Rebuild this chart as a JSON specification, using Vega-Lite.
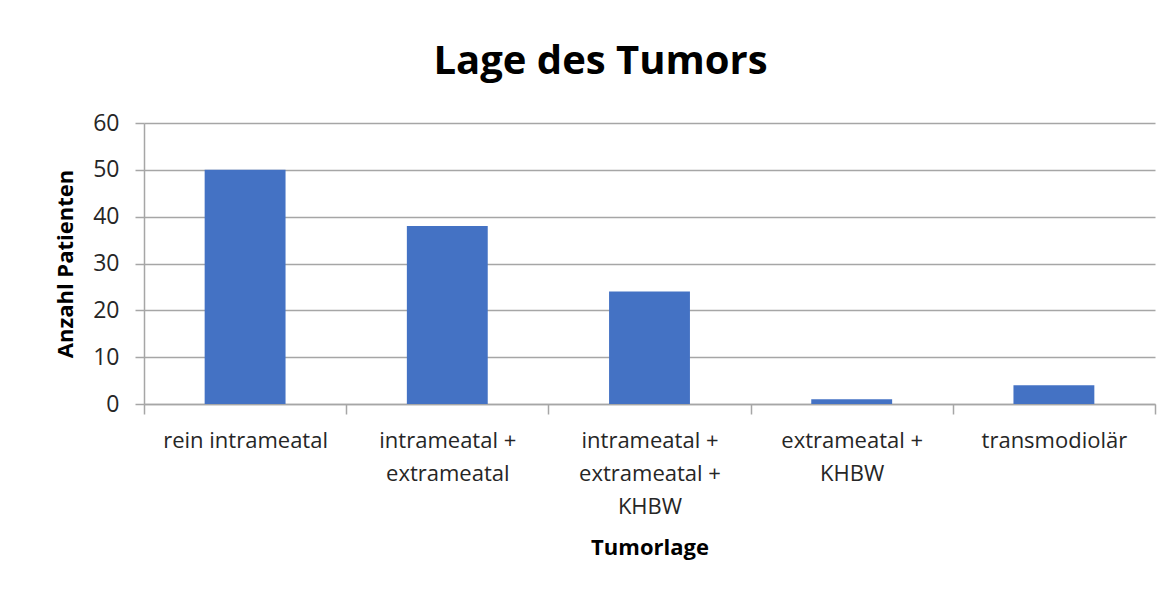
{
  "$schema": "https://vega.github.io/schema/vega-lite/v6.json",
  "width": 1011,
  "height": 281,
  "autosize": {"type": "none"},
  "padding": {"left": 144, "top": 123, "right": 6, "bottom": 190},
  "background": "white",
  "title": {
    "text": "Lage des Tumors",
    "font": "Open Sans",
    "fontSize": 40,
    "fontWeight": "bold",
    "color": "#000000",
    "anchor": "middle",
    "dx": -49,
    "offset": 30
  },
  "data": {
    "values": [
      {"Tumorlage": "rein intrameatal", "Anzahl": 50},
      {"Tumorlage": "intrameatal + extrameatal", "Anzahl": 38},
      {"Tumorlage": "intrameatal + extrameatal + KHBW", "Anzahl": 24},
      {"Tumorlage": "extrameatal + KHBW", "Anzahl": 1},
      {"Tumorlage": "transmodiolär", "Anzahl": 4}
    ]
  },
  "mark": {"type": "bar", "color": "#4472C4", "width": {"band": 0.4}},
  "encoding": {
    "x": {
      "field": "Tumorlage",
      "type": "nominal",
      "sort": null,
      "scale": {"paddingInner": 0, "paddingOuter": 0},
      "axis": {
        "title": "Tumorlage",
        "titleFont": "Open Sans",
        "titleFontSize": 22,
        "titleFontWeight": "bold",
        "titleColor": "#000000",
        "titlePadding": 20,
        "labelFont": "Open Sans",
        "labelFontSize": 22,
        "labelColor": "#262626",
        "labelAngle": 0,
        "labelPadding": 16,
        "labelLineHeight": 33,
        "labelBaseline": "top",
        "labelExpr": "datum.label == 'intrameatal + extrameatal + KHBW' ? ['intrameatal +', 'extrameatal +', 'KHBW'] : datum.label == 'intrameatal + extrameatal' ? ['intrameatal +', 'extrameatal'] : datum.label == 'extrameatal + KHBW' ? ['extrameatal +', 'KHBW'] : datum.label",
        "tickBand": "extent",
        "tickSize": 10,
        "tickColor": "#a6a6a6",
        "tickWidth": 1.5,
        "domainColor": "#a6a6a6",
        "domainWidth": 1.5,
        "grid": false
      }
    },
    "y": {
      "field": "Anzahl",
      "type": "quantitative",
      "scale": {"domain": [0, 60]},
      "axis": {
        "title": "Anzahl Patienten",
        "titleFont": "Open Sans",
        "titleFontSize": 22,
        "titleFontWeight": "bold",
        "titleColor": "#000000",
        "titlePadding": 15,
        "labelFont": "Open Sans",
        "labelFontSize": 23,
        "labelColor": "#262626",
        "labelPadding": 16,
        "values": [0, 10, 20, 30, 40, 50, 60],
        "tickSize": 9,
        "tickColor": "#a6a6a6",
        "tickWidth": 1.5,
        "domainColor": "#a6a6a6",
        "domainWidth": 1.5,
        "grid": true,
        "gridColor": "#a6a6a6",
        "gridWidth": 1.5
      }
    }
  },
  "config": {"view": {"stroke": null}}
}
